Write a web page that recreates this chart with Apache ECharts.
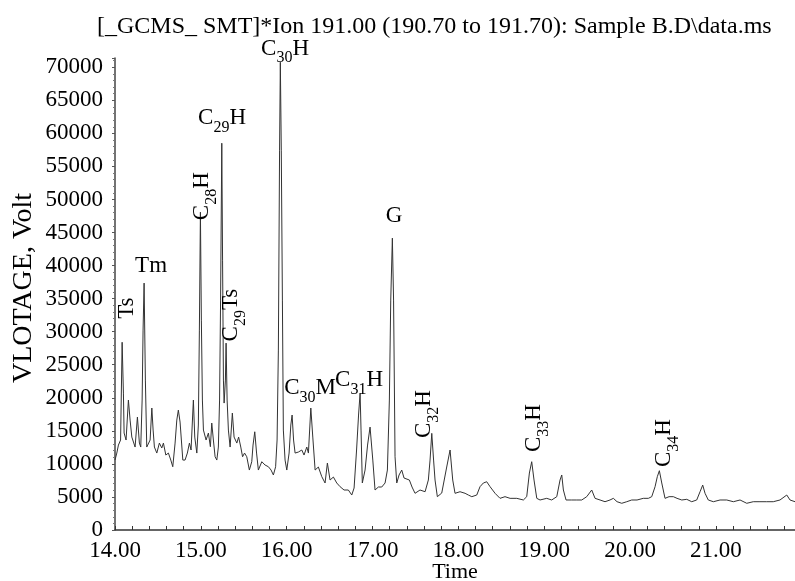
<!DOCTYPE html>
<html>
<head>
<meta charset="utf-8">
<script src="https://cdn.jsdelivr.net/npm/echarts@6/dist/echarts.min.js"></script>
<style>
html, body { margin: 0; padding: 0; background: #fff; }
#chart { width: 795px; height: 581px; }
</style>
</head>
<body>
<div id="chart"></div>
<script>
// retention time (min) and abundance
var times = [
  14.000, 14.021, 14.040, 14.065, 14.083, 14.098, 14.106, 14.129, 14.156, 14.176,
  14.196, 14.214, 14.234, 14.261, 14.284, 14.300, 14.316, 14.327, 14.339, 14.354,
  14.370, 14.391, 14.409, 14.429, 14.444, 14.459, 14.487, 14.517, 14.545, 14.564,
  14.592, 14.622, 14.650, 14.673, 14.700, 14.720, 14.738, 14.758, 14.790, 14.816,
  14.843, 14.867, 14.886, 14.913, 14.929, 14.953, 14.971, 14.983, 14.995, 15.006,
  15.018, 15.030, 15.061, 15.088, 15.111, 15.127, 15.146, 15.166, 15.186, 15.204,
  15.218, 15.230, 15.244, 15.253, 15.263, 15.271, 15.286, 15.294, 15.306, 15.321,
  15.341, 15.367, 15.387, 15.419, 15.440, 15.465, 15.486, 15.509, 15.535, 15.565,
  15.593, 15.608, 15.628, 15.649, 15.670, 15.710, 15.748, 15.787, 15.818, 15.845,
  15.871, 15.888, 15.903, 15.917, 15.926, 15.937, 15.950, 15.961, 15.981, 16.001,
  16.028, 16.048, 16.063, 16.080, 16.098, 16.136, 16.176, 16.202, 16.234, 16.253,
  16.281, 16.304, 16.331, 16.369, 16.409, 16.447, 16.474, 16.505, 16.544, 16.583,
  16.622, 16.668, 16.718, 16.758, 16.785, 16.814, 16.837, 16.855, 16.866, 16.881,
  16.913, 16.942, 16.971, 17.003, 17.029, 17.068, 17.107, 17.146, 17.173, 17.196,
  17.212, 17.231, 17.245, 17.262, 17.282, 17.309, 17.340, 17.367, 17.390, 17.429,
  17.460, 17.495, 17.553, 17.612, 17.650, 17.670, 17.690, 17.711, 17.728, 17.755,
  17.806, 17.864, 17.903, 17.934, 17.961, 18.019, 18.078, 18.116, 18.156, 18.214,
  18.252, 18.291, 18.330, 18.369, 18.427, 18.485, 18.543, 18.602, 18.680, 18.757,
  18.796, 18.827, 18.854, 18.881, 18.913, 18.951, 19.029, 19.087, 19.146, 19.184,
  19.204, 19.223, 19.254, 19.320, 19.379, 19.437, 19.495, 19.553, 19.592, 19.650,
  19.708, 19.766, 19.805, 19.848, 19.903, 19.961, 20.019, 20.081, 20.154, 20.213,
  20.252, 20.291, 20.317, 20.341, 20.369, 20.407, 20.454, 20.504, 20.547, 20.602,
  20.660, 20.718, 20.776, 20.815, 20.846, 20.873, 20.911, 20.970, 21.048, 21.126,
  21.203, 21.281, 21.359, 21.435, 21.513, 21.592, 21.668, 21.746, 21.825, 21.863,
  21.921
];
var signal = [
  10580, 11640, 12850, 13610, 28400, 20710, 14670, 13610, 19660, 16630,
  14060, 14360, 12550, 17090, 13150, 12550, 19660, 30240, 37350, 22680,
  12550, 12850, 13610, 18450, 15120, 12550, 11640, 13150, 12400, 13150,
  11340, 11640, 10580, 9570, 13150, 16630, 18140, 16330, 10580, 10580,
  11640, 13150, 12100, 19660, 14060, 11640, 15880, 30240, 48080, 31750,
  19660, 15120, 13610, 14670, 12600, 16180, 13610, 11080, 10580, 12550,
  19660, 34780, 58510, 40820, 22680, 19200, 22680, 28270, 19660, 15120,
  12550, 17690, 14060, 13150, 14060, 12550, 11080, 11640, 11080, 9070,
  10330, 12850, 14860, 11640, 9070, 10330, 9830, 9570, 9070, 8320,
  9570, 13610, 27220, 57460, 70760, 57460, 34780, 15120, 10580, 9070,
  11640, 15880, 17390, 13610, 11640, 11790, 12100, 11340, 12550, 11640,
  18450, 14060, 9070, 9530, 8060, 7110, 10130, 7560, 8010, 7110,
  6550, 6050, 6050, 5290, 6350, 12100, 17390, 20710, 15120, 7110,
  9070, 12850, 15570, 10580, 6050, 6500, 6500, 7110, 9070, 19660,
  34780, 44150, 34780, 11080, 7110, 8320, 9070, 7860, 7560, 7560,
  6500, 5550, 6050, 5790, 7560, 10580, 14620, 10580, 7560, 5040,
  5590, 9530, 12100, 7560, 5550, 5790, 5550, 5290, 5040, 5290,
  6550, 7110, 7300, 6550, 5550, 4790, 5040, 4790, 4790, 4540,
  5040, 8620, 10330, 7560, 4790, 4540, 4790, 4540, 5040, 7560,
  8320, 6050, 4540, 4540, 4540, 4540, 5040, 6050, 4790, 4540,
  4280, 4540, 4790, 4280, 4040, 4280, 4540, 4540, 4790, 4790,
  5040, 6550, 8060, 8970, 7110, 4790, 5040, 5040, 4790, 4540,
  4640, 4280, 4540, 5790, 6800, 5550, 4540, 4280, 4540, 4540,
  4280, 4540, 4040, 4280, 4280, 4280, 4280, 4540, 5290, 4540,
  4280
];

// peak annotations: text, anchor time, anchor level, vertical or not
var peakNames = [
  'Ts', 'Tm', '{m|C}{s|28}{m|H}', '{m|C}{s|29}{m|H}', '{m|C}{s|29}{m|Ts}',
  '{m|C}{s|30}{m|H}', '{m|C}{s|30}{m|M}', '{m|C}{s|31}{m|H}', 'G',
  '{m|C}{s|32}{m|H}', '{m|C}{s|33}{m|H}', '{m|C}{s|34}{m|H}'
];
var peakTimes = [14.141, 14.420, 15.014, 15.247, 15.352, 15.981, 16.272, 16.843, 17.250, 17.600, 18.881, 20.395];
var peakLevels = [33560, 39910, 50500, 62290, 32510, 71000, 21470, 22680, 47470, 17540, 15420, 13150];
var peakVertical = [true, false, true, false, true, false, false, false, false, true, true, true];

var FONT = 'Liberation Serif, Times New Roman, serif';

var chart = echarts.init(document.getElementById('chart'));

var marks = [];
for (var i = 0; i < peakNames.length; i++) {
  var item = {
    coord: [peakTimes[i], peakLevels[i]],
    label: { formatter: peakNames[i], rotate: peakVertical[i] ? 90 : 0 }
  };
  // the C30H tag sits above the top of the axis
  if (i === 5) item.label.offset = [0, -12];
  marks.push(item);
}

var trace = [];
for (var j = 0; j < times.length; j++) trace.push([times[j], signal[j]]);

chart.setOption({
  animation: false,
  backgroundColor: '#fff',
  title: {
    text: '[_GCMS_ SMT]*Ion 191.00 (190.70 to 191.70): Sample B.D\\data.ms',
    left: 97,
    top: 15,
    padding: 0,
    textStyle: { fontFamily: FONT, fontSize: 24, fontWeight: 'normal', color: '#000' }
  },
  grid: { left: 115, right: 0, top: 58, bottom: 51, containLabel: false, outerBoundsMode: 'none' },
  xAxis: {
    type: 'value',
    min: 14,
    max: 21.921,
    interval: 1,
    name: 'Time',
    nameLocation: 'middle',
    nameGap: 31,
    nameMoveOverlap: false,
    nameTextStyle: { fontFamily: FONT, fontSize: 22, color: '#000' },
    axisLine: { lineStyle: { color: '#333', width: 1.5 } },
    axisTick: { inside: true, length: 4, lineStyle: { color: '#333' } },
    minorTick: { show: true, splitNumber: 5, length: 4, lineStyle: { color: '#333' } },
    splitLine: { show: false },
    axisLabel: {
      showMaxLabel: false,
      margin: 9,
      fontFamily: FONT,
      fontSize: 23,
      color: '#000',
      formatter: function (v) { return v.toFixed(2); }
    }
  },
  yAxis: {
    type: 'value',
    min: 0,
    max: 71400,
    interval: 5000,
    name: 'VLOTAGE, Volt',
    nameLocation: 'middle',
    nameGap: 77,
    nameRotate: 90,
    nameMoveOverlap: false,
    nameTextStyle: { fontFamily: FONT, fontSize: 28, color: '#000', padding: [0, 0, 0, 12] },
    axisLine: { show: true, lineStyle: { color: '#444', width: 1.5 } },
    axisTick: { show: true, length: 3, lineStyle: { color: '#555' } },
    minorTick: { show: true, splitNumber: 5, length: 2, lineStyle: { color: '#777' } },
    splitLine: { show: false },
    axisLabel: {
      showMaxLabel: false,
      margin: 12,
      fontFamily: FONT,
      fontSize: 23,
      color: '#000',
      formatter: function (v) { return String(v); }
    }
  },
  series: [{
    type: 'line',
    data: trace,
    showSymbol: false,
    clip: false,
    lineStyle: { color: '#333', width: 1 },
    markPoint: {
      silent: true,
      symbol: 'rect',
      symbolSize: 1,
      itemStyle: { color: 'rgba(0,0,0,0)' },
      label: {
        show: true,
        position: 'inside',
        color: '#000',
        fontFamily: FONT,
        fontSize: 23,
        rich: {
          m: { fontFamily: FONT, fontSize: 23, lineHeight: 23, color: '#000', verticalAlign: 'top' },
          s: { fontFamily: FONT, fontSize: 16, lineHeight: 16, color: '#000', verticalAlign: 'top', padding: [13, 0, 0, 0] }
        }
      },
      data: marks
    }
  }]
});
</script>
</body>
</html>
